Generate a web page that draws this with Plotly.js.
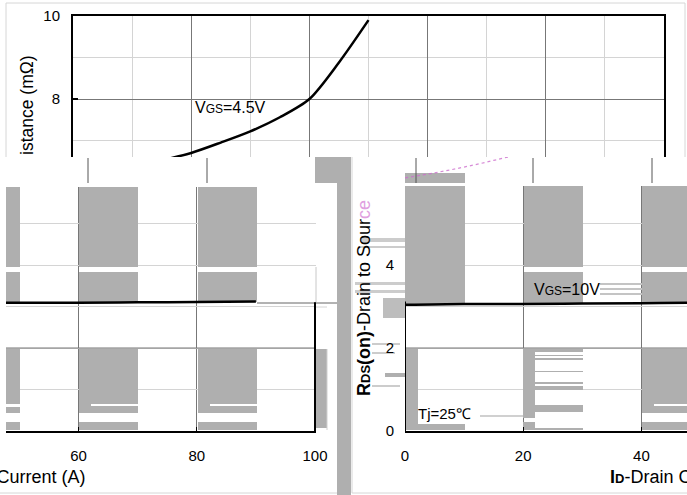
<!DOCTYPE html>
<html><head><meta charset="utf-8">
<script src="https://cdn.plot.ly/plotly-3.0.1.min.js"></script>
<style>html,body{margin:0;padding:0;background:#fff}#c{width:687px;height:495px}</style>
</head><body><div id="c"></div>
<script>
// ---- data ----
const id45 = [0, 5, 10, 15, 20, 25, 30, 35, 40, 45, 50];
const rds45 = [6.10, 6.22, 6.36, 6.52, 6.70, 6.95, 7.22, 7.56, 8.00, 8.88, 9.90];
const id10 = [0, 10, 20, 30, 40, 50, 60, 70, 80, 90];
const rds10 = [3.04, 3.06, 3.06, 3.07, 3.08, 3.09, 3.09, 3.10, 3.11, 3.12];
const xTicks = [0, 20, 40, 60, 80, 100];
const yTicksTop = [8, 10];
const yTicksLow = [0, 1, 2, 3, 4, 5];
const yTextLow = ['0', '', '2', '', '4', ''];
const label45 = "V<span style='font-size:12px'>GS</span>=4.5V";
const label10 = "V<span style='font-size:12px'>GS</span>=10V";
const labelTj = "Tj=25℃";
const yTitleTop = "istance (mΩ)";
const yTitleLow = "<b>R<span style='font-size:13px'>DS</span>(on)</b>-Drain to Sour<span style='color:#e0a0e0'>ce</span>";
const xTitle = "<b>I<span style='font-size:13px'>D</span></b>-Drain Current (A)";

// ---- geometry (pixels) ----
const W = 687, H = 495;
const PX = p => p / W, PY = p => 1 - p / H;
const sx = 5.91, sy = 41.5, y0px = 431;
const regA = {xa:'x', ya:'y', xoff:73, x:[73,664], y:[157,16]};
const regB = {xa:'x2', ya:'y2', xoff:-276, x:[6,316], y:[187,431]};
const regC = {xa:'x3', ya:'y3', xoff:405, x:[405,687], y:[186,431]};
const regD = {xa:'x4', ya:'y4', xoff:405, x:[405,687], y:[157,186]};
function rng(r){
  return {
    xr:[(r.x[0]-r.xoff)/sx, (r.x[1]-r.xoff)/sx],
    yr:[(y0px-Math.max(r.y[0],r.y[1]))/sy, (y0px-Math.min(r.y[0],r.y[1]))/sy],
    xd:[PX(r.x[0]), PX(r.x[1])],
    yd:[PY(Math.max(r.y[0],r.y[1])), PY(Math.min(r.y[0],r.y[1]))]
  };
}
const A = rng(regA), B = rng(regB), C = rng(regC), D = rng(regD);

const GRAY = '#afafaf', DARKG = '#777777', LIGHTG = '#d4d4d4';
const FONT = 'Liberation Sans, Arial, sans-serif';

const traces = [
  {x:id45, y:rds45, xaxis:'x', yaxis:'y', mode:'lines', line:{color:'#000', width:2.5, shape:'spline', smoothing:0.8}, hoverinfo:'skip'},
  {x:id10, y:rds10, xaxis:'x2', yaxis:'y2', mode:'lines', line:{color:'#000', width:2.5, shape:'spline'}, hoverinfo:'skip'},
  {x:id10, y:rds10, xaxis:'x3', yaxis:'y3', mode:'lines', line:{color:'#000', width:2.5, shape:'spline'}, hoverinfo:'skip'},
  {x:id45, y:rds45, xaxis:'x4', yaxis:'y4', mode:'lines', line:{color:'rgba(205,110,205,0.8)', width:1.2, dash:'dot', shape:'spline'}, hoverinfo:'skip'}
];

// ---- decoration shapes ----
const shapes = [];
function blockIn(r, b, color, layer){
  const toX = p => (p - r.xoff)/sx, toY = p => (y0px - p)/sy;
  shapes.push({type:'rect', xref:r.xa, yref:r.ya, x0:toX(b[0]), x1:toX(b[2]), y0:toY(b[3]), y1:toY(b[1]),
    fillcolor:color, line:{width:0}, layer:layer||'between'});
}
function paperRect(b, color){
  shapes.push({type:'rect', xref:'paper', yref:'paper', x0:PX(b[0]), x1:PX(b[2]), y0:PY(b[3]), y1:PY(b[1]),
    fillcolor:color, line:{width:0}, layer:'below'});
}
function paperLine(x0,y0,x1,y1,color,w){
  shapes.push({type:'line', xref:'paper', yref:'paper', x0:PX(x0), x1:PX(x1), y0:PY(y0), y1:PY(y1),
    line:{color:color, width:w||1}, layer:'below'});
}
function lineIn(r, x0,y0,x1,y1,color,w,layer){
  shapes.push({type:'line', xref:r.xa, yref:r.ya, x0:x0, x1:x1, y0:y0, y1:y1, line:{color:color, width:w}, layer:layer||'between'});
}

// region B blocks
[[6,187,20,267],[6,272,20,304],[79,187,138,267],[79,272,138,302],[198,187,257,267],[198,272,257,302],
 [6,349,20,404],[6,407,20,413],[6,422,20,430],[79,349,138,413],[79,422,138,430],[198,349,257,413],[198,422,257,430]
].forEach(b => blockIn(regB, b, GRAY));
[[91,404,138,406],[210,404,257,406]].forEach(b => blockIn(regB, b, '#ffffff'));
lineIn(regB, B.xr[0], 2, 100, 2, DARKG, 1);
lineIn(regB, 100, 0, 100, 3.1, '#000', 2, 'above');

// region C blocks
[[405,186,465,304],[524,186,583,267],[524,272,583,303],[642,186,687,267],[642,272,687,303],
 [405,349,418,430],[418,424,465,430],[523,349,535,418],[523,422,535,428],
 [535,349,583,352],[535,355,583,356],[535,358,583,360],[535,371,583,372],[535,382,583,384],[535,386,583,390],[535,405,583,412],[523,428,583,430],
 [642,349,687,413],[642,422,687,430]
].forEach(b => blockIn(regC, b, GRAY));
blockIn(regC, [654,404,687,406], '#ffffff');
[[600,283,642,285],[600,288,642,290],[600,293,642,295]].forEach(b => blockIn(regC, b, '#c4c4c4'));
lineIn(regC, 0, 2, C.xr[1], 2, DARKG, 1);
lineIn(regC, 0, 0, 0, 3.12, '#000', 2, 'above');

// paper-level artefacts (drawn beneath text)
paperRect([337,157,351,495], GRAY);
paperRect([315,157,337,183], GRAY);
paperRect([316,349,327,428], GRAY);
[[360,238,405,242],[360,246,405,248],[355,282,405,285],[355,290,405,293],[372,343,400,345],[372,352,395,354],[372,385,400,387]]
  .forEach(b => paperRect(b, '#cccccc'));
paperRect([383,298,405,318], '#bdbdbd');
paperRect([385,373,405,377], GRAY);
paperRect([480,415,523,417], '#d0d0d0');
paperRect([405,173,465,183], GRAY);
// band tick marks
[88,207,416,533,652].forEach(x => paperLine(x,158,x,183,'#555555',1));
// outer light borders
paperLine(6,3,685,3,'#d6d6d6',1);
paperLine(6,3,6,157,'#d6d6d6',1);
paperLine(685,3,685,157,'#d6d6d6',1);
paperLine(0,493,337,493,'#d6d6d6',1);
paperLine(352,493,687,493,'#d6d6d6',1);
paperLine(352,157,352,493,'#d6d6d6',1);
// glitch line extensions right of region B
paperLine(257,303,337,303,'#666666',1);
paperLine(316,307,327,307,LIGHTG,1);
paperLine(316,267,316,302,'#c8c8c8',1);
paperLine(327,349,327,430,'#cfcfcf',1);

const tickfont = {family:FONT, size:15, color:'#000'};
const ann = (text, x, y, xa, ya, size, angle) => ({text:text, xref:'paper', yref:'paper', x:PX(x), y:PY(y),
  xanchor:xa, yanchor:ya, showarrow:false, textangle:angle||0, font:{family:FONT, size:size, color:'#000'}});

const layout = {
  width:W, height:H, margin:{l:0,r:0,t:0,b:0}, paper_bgcolor:'#fff', plot_bgcolor:'rgba(0,0,0,0)',
  showlegend:false, font:{family:FONT},
  xaxis:{domain:A.xd, range:[0,100], anchor:'y', side:'top', showline:true, linecolor:'#000', linewidth:2,
    tickvals:xTicks, showticklabels:false, ticks:'', showgrid:true, gridcolor:DARKG, gridwidth:1, zeroline:false,
    minor:{dtick:10, tick0:0, showgrid:true, gridcolor:LIGHTG}, fixedrange:true},
  yaxis:{domain:A.yd, range:A.yr, anchor:'x', showline:true, mirror:true, linecolor:'#000', linewidth:2,
    tickvals:yTicksTop, ticks:'inside', ticklen:5, tickwidth:1.5, tickcolor:'#000', tickfont:tickfont, ticklabelstandoff:8,
    showgrid:true, gridcolor:DARKG, zeroline:false, minor:{tickvals:[7,9], showgrid:true, gridcolor:LIGHTG}, fixedrange:true},
  xaxis2:{domain:B.xd, range:B.xr, anchor:'y2', showline:true, linecolor:'#000', linewidth:2,
    tickvals:xTicks, ticks:'inside', ticklen:4, tickcolor:'#000', tickfont:tickfont, ticklabelstandoff:10,
    showgrid:true, gridcolor:DARKG, zeroline:false, fixedrange:true},
  yaxis2:{domain:B.yd, range:B.yr, anchor:'x2', showline:false, tickvals:yTicksLow, showticklabels:false, ticks:'',
    showgrid:true, gridcolor:LIGHTG, zeroline:false, fixedrange:true},
  xaxis3:{domain:C.xd, range:C.xr, anchor:'y3', showline:true, linecolor:'#000', linewidth:2,
    tickvals:xTicks, ticks:'inside', ticklen:4, tickcolor:'#000', tickfont:tickfont, ticklabelstandoff:10,
    showgrid:true, gridcolor:DARKG, zeroline:false, fixedrange:true},
  yaxis3:{domain:C.yd, range:C.yr, anchor:'x3', showline:false, tickvals:yTicksLow, ticktext:yTextLow, ticks:'',
    tickfont:tickfont, ticklabelstandoff:10, showgrid:true, gridcolor:LIGHTG, zeroline:false, fixedrange:true},
  xaxis4:{domain:D.xd, range:D.xr, anchor:'y4', visible:false, fixedrange:true},
  yaxis4:{domain:D.yd, range:D.yr, anchor:'x4', visible:false, fixedrange:true},
  shapes:shapes,
  annotations:[
    ann(label45, 193, 108, 'left', 'middle', 16),
    ann(label10, 532, 289, 'left', 'middle', 16),
    ann(labelTj, 416, 413, 'left', 'middle', 15),
    ann(yTitleTop, 27, 157, 'center', 'bottom', 17.5, -90),
    ann(yTitleLow, 364, 398, 'center', 'bottom', 18, -90),
    ann(xTitle, 87, 477, 'right', 'middle', 18),
    ann(xTitle, 608, 477, 'left', 'middle', 18)
  ]
};
Plotly.newPlot('c', traces, layout, {staticPlot:true, displayModeBar:false});
</script></body></html>
